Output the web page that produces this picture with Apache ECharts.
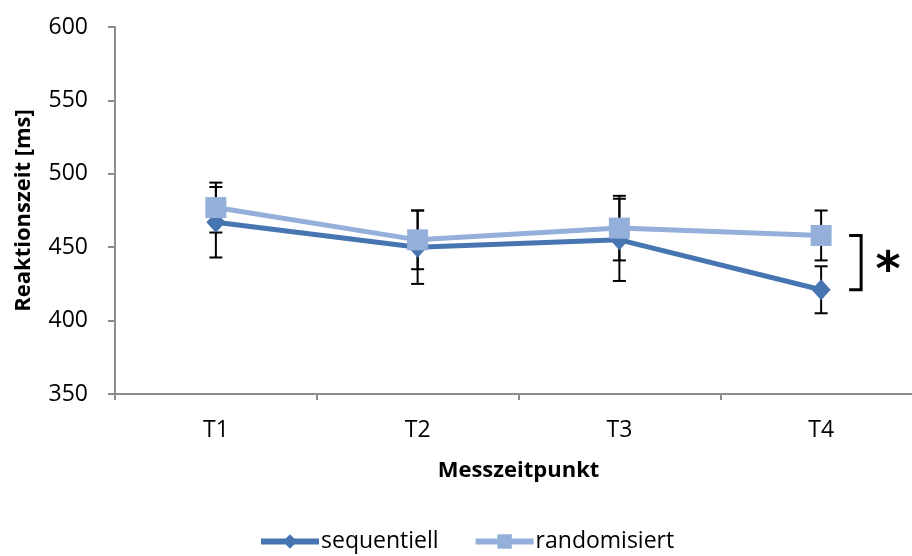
<!DOCTYPE html>
<html>
<head>
<meta charset="utf-8">
<script src="https://cdn.jsdelivr.net/npm/echarts@6/dist/echarts.min.js"></script>
<style>html,body{margin:0;padding:0;background:#fff}#c{width:912px;height:556px}</style>
</head>
<body>
<div id="c"></div>
<script>
const categories = ['T1', 'T2', 'T3', 'T4'];
const sequentiell = [467, 450, 455, 421];
const sequentiellErr = [24, 25, 28, 16];
const randomisiert = [477, 455, 463, 458];
const randomisiertErr = [17, 20, 22, 17];
const yTicks = { min: 350, max: 600, interval: 50 };
const significance = { category: 3, from: 458, to: 421, label: '*' };

const FONT = '"Open Sans", "Noto Sans", sans-serif';
const C_SEQ = '#4675B1';
const C_RAND = '#94AFD9';

function errData(vals, errs) {
  return vals.map((v, i) => [i, v - errs[i], v + errs[i]]);
}

function renderErr(params, api) {
  const x = api.value(0);
  const lo = api.coord([x, api.value(1)]);
  const hi = api.coord([x, api.value(2)]);
  const w = 6.5;
  const st = { stroke: '#000', lineWidth: 2 };
  return {
    type: 'group',
    children: [
      { type: 'line', shape: { x1: lo[0], y1: lo[1], x2: hi[0], y2: hi[1] }, style: st },
      { type: 'line', shape: { x1: lo[0] - w, y1: lo[1], x2: lo[0] + w, y2: lo[1] }, style: st },
      { type: 'line', shape: { x1: hi[0] - w, y1: hi[1], x2: hi[0] + w, y2: hi[1] }, style: st }
    ]
  };
}

function renderBracket(params, api) {
  const x = api.value(0);
  const a = api.coord([x, api.value(1)]);
  const b = api.coord([x, api.value(2)]);
  const vx = a[0] + 40, hx = a[0] + 28;
  const st = { stroke: '#000', lineWidth: 3, fill: null };
  return {
    type: 'group',
    children: [
      { type: 'polyline', shape: { points: [[hx, a[1]], [vx, a[1]], [vx, b[1]], [hx, b[1]]] }, style: st },
      { type: 'text', x: a[0] + 67, y: (a[1] + b[1]) / 2 + 10,
        style: { text: significance.label, font: 'bold 48px "DejaVu Sans", sans-serif', fill: '#000', align: 'center', verticalAlign: 'middle' } }
    ]
  };
}

const chart = echarts.init(document.getElementById('c'), null, { renderer: 'canvas' });
chart.setOption({
  animation: false,
  grid: { left: 115, top: 27, bottom: 162, width: 807, containLabel: false, outerBoundsMode: 'none' },
  legend: {
    left: 258, bottom: 3, padding: 0,
    itemWidth: 58, itemHeight: 18, itemGap: 34,
    lineStyle: { width: 6 },
    textStyle: { fontFamily: FONT, fontSize: 23, color: '#000', padding: [0, 0, 0, -3] },
    data: ['sequentiell', 'randomisiert']
  },
  xAxis: {
    type: 'category',
    data: categories,
    boundaryGap: true,
    name: 'Messzeitpunkt',
    nameLocation: 'middle',
    nameGap: 66,
    nameTextStyle: { fontFamily: FONT, fontSize: 22, fontWeight: 'bold', color: '#000' },
    axisLine: { lineStyle: { color: '#8c8c8c', width: 2 } },
    axisTick: { show: true, length: 6, lineStyle: { color: '#8c8c8c', width: 2 } },
    axisLabel: { fontFamily: FONT, fontSize: 23, color: '#000', margin: 25 },
    splitLine: { show: false }
  },
  yAxis: {
    type: 'value',
    min: yTicks.min, max: yTicks.max, interval: yTicks.interval,
    name: 'Reaktionszeit [ms]',
    nameLocation: 'middle',
    nameGap: 80,
    nameTextStyle: { fontFamily: FONT, fontSize: 22, fontWeight: 'bold', color: '#000' },
    axisLine: { show: true, lineStyle: { color: '#8c8c8c', width: 2 } },
    axisTick: { show: true, length: 7, lineStyle: { color: '#8c8c8c', width: 2 } },
    axisLabel: { fontFamily: FONT, fontSize: 23, color: '#000', margin: 27 },
    splitLine: { show: false }
  },
  series: [
    { type: 'custom', name: 'errSeq', renderItem: renderErr, data: errData(sequentiell, sequentiellErr),
      encode: { x: 0, y: [1, 2] }, z: 1, silent: true },
    { type: 'custom', name: 'errRand', renderItem: renderErr, data: errData(randomisiert, randomisiertErr),
      encode: { x: 0, y: [1, 2] }, z: 1, silent: true },
    { type: 'line', name: 'sequentiell', data: sequentiell, z: 3,
      symbol: 'diamond', symbolSize: [19, 21],
      lineStyle: { color: C_SEQ, width: 5 }, itemStyle: { color: C_SEQ } },
    { type: 'line', name: 'randomisiert', data: randomisiert, z: 4,
      symbol: 'rect', symbolSize: 21,
      lineStyle: { color: C_RAND, width: 5 }, itemStyle: { color: C_RAND } },
    { type: 'custom', name: 'bracket', renderItem: renderBracket,
      data: [[significance.category, significance.from, significance.to]],
      encode: { x: 0, y: [1, 2] }, z: 5, silent: true, clip: false }
  ]
});
</script>
</body>
</html>
